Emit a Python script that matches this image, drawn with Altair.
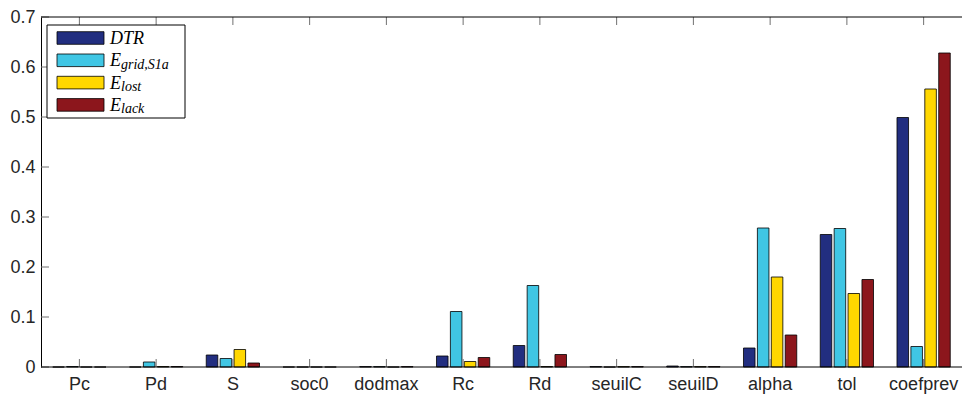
import altair as alt
import pandas as pd

categories = ["Pc", "Pd", "S", "soc0", "dodmax", "Rc", "Rd", "seuilC", "seuilD", "alpha", "tol", "coefprev"]
series = ["DTR", "E_grid,S1a", "E_lost", "E_lack"]
legend_main = ["DTR", "E", "E", "E"]
legend_sub = ["", "grid,S1a", "lost", "lack"]
colors = ["#222E80", "#40C6E4", "#FFD700", "#8C161C"]

dtr = [0.0, 0.0, 0.024, 0.0, 0.0008, 0.022, 0.043, 0.0008, 0.002, 0.038, 0.265, 0.499]
egrid = [0.001, 0.010, 0.017, 0.0, 0.0008, 0.111, 0.163, 0.0, 0.0008, 0.278, 0.277, 0.041]
elost = [0.0, 0.001, 0.035, 0.0, 0.0, 0.011, 0.001, 0.0008, 0.0008, 0.180, 0.147, 0.556]
elack = [0.0, 0.001, 0.008, 0.0, 0.0008, 0.019, 0.025, 0.0008, 0.0008, 0.064, 0.175, 0.628]

y_ticks = [0.0, 0.1, 0.2, 0.3, 0.4, 0.5, 0.6, 0.7]

rows = []
for i, c in enumerate(categories):
    for s, vals in zip(series, [dtr, egrid, elost, elack]):
        rows.append({"param": c, "series": s, "value": vals[i]})
df = pd.DataFrame(rows)

W, H = 921, 350
xscale = alt.Scale(domain=categories, paddingInner=0.306, paddingOuter=0.153)
yscale = alt.Scale(domain=[0, 0.7])
cscale = alt.Scale(domain=series, range=colors)

bars = alt.Chart(df).mark_bar(stroke="black", strokeWidth=0.8).encode(
    x=alt.X("param:N", sort=categories, scale=xscale,
            axis=alt.Axis(title=None, labelAngle=0, domain=False, ticks=False, labelPadding=8,
                          labelFontSize=18, labelFont="Liberation Sans", labelColor="#262626")),
    xOffset=alt.XOffset("series:N", sort=series,
                        scale=alt.Scale(domain=series, paddingInner=0.17, paddingOuter=0)),
    y=alt.Y("value:Q", scale=yscale,
            axis=alt.Axis(title=None, values=y_ticks, format=".1~f", grid=False, ticks=False,
                          domainColor="black", domainWidth=1, labelPadding=6,
                          labelFontSize=18, labelFont="Liberation Sans", labelColor="#262626")),
    color=alt.Color("series:N", scale=cscale, legend=None),
)

xt = pd.DataFrame({"param": categories})
yt = pd.DataFrame({"v": y_ticks})
one = pd.DataFrame({"a": [0]})
tick_color = "#707070"

xtick_bottom = alt.Chart(xt).mark_rule(color=tick_color, strokeWidth=1).encode(
    x=alt.X("param:N", sort=categories, scale=xscale, title=None),
    y=alt.value(H), y2=alt.value(H - 8))
xtick_top = alt.Chart(xt).mark_rule(color=tick_color, strokeWidth=1).encode(
    x=alt.X("param:N", sort=categories, scale=xscale, title=None),
    y=alt.value(0), y2=alt.value(8))
ytick_left = alt.Chart(yt).mark_rule(color=tick_color, strokeWidth=1).encode(
    y=alt.Y("v:Q", scale=yscale, title=None),
    x=alt.value(0), x2=alt.value(8))

top_line = alt.Chart(one).mark_rule(color="black", strokeWidth=1).encode(
    x=alt.value(0), x2=alt.value(W), y=alt.value(0))
bottom_line = alt.Chart(one).mark_rule(color="black", strokeWidth=1).encode(
    x=alt.value(0), x2=alt.value(W), y=alt.value(H))

leg = pd.DataFrame({"main": legend_main, "sub": legend_sub, "idx": list(range(4)), "series": series})
leg_base = alt.Chart(leg).transform_calculate(
    cy="21 + datum.idx * 22.3",
    y1="datum.cy - 6.3",
    y2="datum.cy + 6.3",
    yb="datum.cy + 6",
    ys="datum.cy + 8.5",
)
leg_box = alt.Chart(one).mark_rect(fill="white", stroke="black", strokeWidth=1).encode(
    x=alt.value(6), x2=alt.value(144), y=alt.value(8), y2=alt.value(101))
leg_sw = leg_base.mark_rect(stroke="black", strokeWidth=0.8).encode(
    x=alt.value(16), x2=alt.value(63),
    y=alt.Y("y1:Q", scale=None, axis=None), y2="y2:Q",
    color=alt.Color("series:N", scale=cscale, legend=None))
leg_main = leg_base.mark_text(align="left", baseline="alphabetic", font="Liberation Serif",
                              fontStyle="italic", fontSize=18, color="black").encode(
    x=alt.value(69), y=alt.Y("yb:Q", scale=None, axis=None), text="main:N")
leg_sub = leg_base.mark_text(align="left", baseline="alphabetic", font="Liberation Serif",
                             fontStyle="italic", fontSize=14, color="black").encode(
    x=alt.value(80), y=alt.Y("ys:Q", scale=None, axis=None), text="sub:N")

chart = alt.layer(
    bars, xtick_bottom, xtick_top, ytick_left,
    top_line, bottom_line,
    leg_box, leg_sw, leg_main, leg_sub,
).properties(
    width=W, height=H,
    padding={"left": 33, "top": 9, "right": 0, "bottom": 28},
    autosize=alt.AutoSizeParams(type="none"),
).configure_view(strokeWidth=0)

chart.save("out.html", embed_options={"renderer": "svg", "actions": False})
